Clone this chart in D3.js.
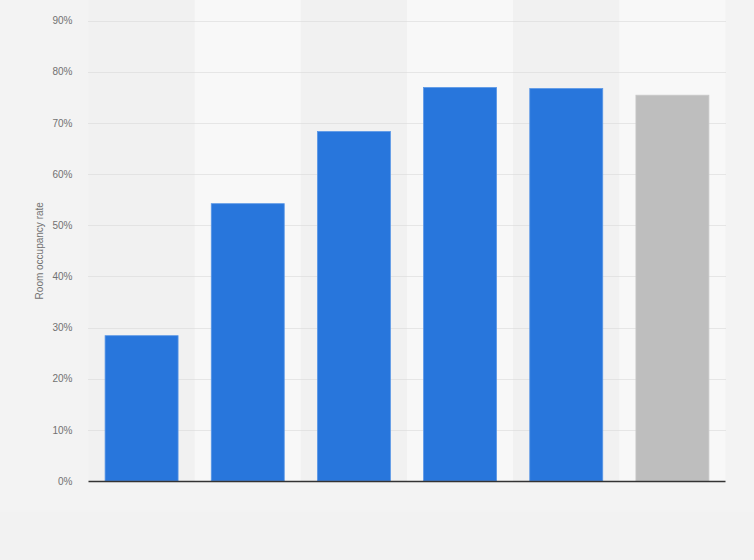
<!DOCTYPE html>
<html><head><meta charset="utf-8">
<script src="https://cdn.jsdelivr.net/npm/d3@7"></script>
<style>
html,body{margin:0;padding:0;background:#f3f3f3;}
svg{display:block;font-family:"Liberation Sans",Arial,sans-serif;}
</style></head>
<body><svg id="c" width="754" height="560"></svg>
<script>
const categories = ["c1","c2","c3","c4","c5","c6"];
const values = [28.4, 54.2, 68.3, 76.9, 76.7, 75.4];
const forecast = [false,false,false,false,false,true];
const yTicks = [0,10,20,30,40,50,60,70,80,90];
const yLabel = "Room occupancy rate";

const svg = d3.select("#c");
const W = 754, H = 560;
const m = {left:88.5, right:28.5, top:20.5, bottom:79};
const x = d3.scaleBand().domain(categories).range([m.left, W - m.right]).paddingInner(0.3126).paddingOuter(0.1563);
const xb = d3.scaleBand().domain(categories).range([m.left, W - m.right]).padding(0);
const y = d3.scaleLinear().domain([0,90]).range([H - m.bottom, m.top]);

svg.append("rect").attr("width",W).attr("height",H).attr("fill","#f3f3f3");
svg.append("rect").attr("x",0).attr("y",512).attr("width",W).attr("height",48).attr("fill","#f2f2f2");

// alternating column backgrounds
svg.append("g").selectAll("rect").data(categories).join("rect")
  .attr("x", d => xb(d)).attr("y", 0)
  .attr("width", xb.bandwidth()).attr("height", y(0))
  .attr("fill", (d,i) => i % 2 ? "#f8f8f8" : "#f1f1f1");

// grid
svg.append("g").selectAll("line").data(yTicks.filter(t => t > 0)).join("line")
  .attr("x1", m.left).attr("x2", W - m.right)
  .attr("y1", d => Math.round(y(d)) + 0.5).attr("y2", d => Math.round(y(d)) + 0.5)
  .attr("stroke", "#d4d4d4").attr("stroke-width", 1).attr("stroke-dasharray", "1,1");

// y axis labels
const ya = svg.append("g").attr("transform", `translate(${m.left},0)`)
  .call(d3.axisLeft(y).tickValues(yTicks).tickFormat(d => d + "%").tickSize(0).tickPadding(16));
ya.select(".domain").remove();
ya.selectAll("text").attr("fill","#717171").attr("font-size","10px").attr("font-family","'Liberation Sans',Arial,sans-serif");

// bars
svg.append("g").selectAll("rect").data(categories).join("rect")
  .attr("x", d => x(d)).attr("width", x.bandwidth())
  .attr("y", (d,i) => y(values[i])).attr("height", (d,i) => y(0) - y(values[i]))
  .attr("fill", (d,i) => forecast[i] ? "#bebebe" : "#2876dc")
  .attr("stroke", (d,i) => forecast[i] ? "#c8c8c8" : "#5a97e6").attr("stroke-width", 0.8);

// baseline
svg.append("line").attr("x1", m.left).attr("x2", W - m.right)
  .attr("y1", y(0) + 0.5).attr("y2", y(0) + 0.5)
  .attr("stroke", "#333").attr("stroke-width", 1.3);

// y label
svg.append("text").attr("transform", `translate(43,${(y(0)+y(90))/2}) rotate(-90)`)
  .attr("text-anchor","middle").attr("fill","#717171").attr("font-size","10px")
  .text(yLabel);
</script></body></html>
